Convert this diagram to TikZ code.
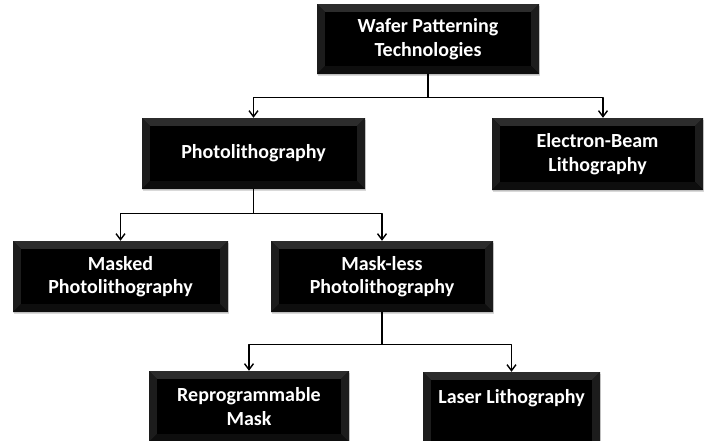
\documentclass[tikz,border=0pt]{standalone}
\usepackage{fontspec}
\setmainfont{Carlito}
\usetikzlibrary{arrows.meta,shadows}
\definecolor{bevtop}{HTML}{2C2C2C}
\definecolor{bevside}{HTML}{1C1C1C}
\definecolor{bevbot}{HTML}{0E0E0E}
\begin{document}
\begin{tikzpicture}[x=1pt,y=1pt,line
				join=round,line
				cap=round,
				font=\fontsize{20}{23.5}\selectfont\bfseries,
				link/.style={line width=1.4pt,-{Straight Barb[length=6pt,width=9pt,line width=1.4pt]}},
				techbox/.style={fill=black,text=white,align=center,inner sep=0pt,
					drop shadow={shadow xshift=1pt,shadow yshift=-2pt,opacity=.3,fill=gray},
					path picture={
						\def\bv{8}
						\coordinate (nw) at (path picture bounding box.north west);
						\coordinate (ne) at (path picture bounding box.north east);
						\coordinate (sw) at (path picture bounding box.south west);
						\coordinate (se) at (path picture bounding box.south east);
						\fill[bevtop] (nw)--(ne)--([shift={(-\bv,-\bv)}]ne)--([shift={(\bv,-\bv)}]nw)--cycle;
						\fill[bevside] (nw)--(sw)--([shift={(\bv,\bv)}]sw)--([shift={(\bv,-\bv)}]nw)--cycle;
						\fill[bevside] (ne)--(se)--([shift={(-\bv,\bv)}]se)--([shift={(-\bv,-\bv)}]ne)--cycle;
						\fill[bevbot] (sw)--(se)--([shift={(-\bv,\bv)}]se)--([shift={(\bv,\bv)}]sw)--cycle;
						\fill[black] ([shift={(\bv,-\bv)}]nw) rectangle ([shift={(-\bv,\bv)}]se);
					}}]
				\useasboundingbox (0,0) rectangle (704,-440);
				\node[techbox,minimum width=222,minimum height=70] (root) at (428,-39)
				{Wafer Patterning\\Technologies};
				\node[techbox,minimum width=223,minimum height=71] (photo) at (253.5,-153.5)
				{Photolithography};
				\node[techbox,minimum width=211,minimum height=72] (ebeam) at (597.5,-154)
				{Electron-Beam\\Lithography};
				\node[techbox,minimum width=215,minimum height=71] (masked) at (120.5,-276.5)
				{Masked\\Photolithography};
				\node[techbox,minimum width=222,minimum height=71] (maskless) at (382,-276.5)
				{Mask-less\\Photolithography};
				\node[techbox,minimum width=200,minimum height=71] (reprog) at (249,-406.5)
				{Reprogrammable\\Mask};
				\node[techbox,minimum width=177,minimum height=80] (laser) at (511.5,-412)
				{Laser Lithography\\\strut};
				% connectors
				\draw[link] (root.south) -- ++(0,-23) -| (photo.north);
				\draw[link] (root.south) -- ++(0,-23) -| ([xshift=5.5]ebeam.north);
				\draw[link] (photo.south) -- ++(0,-24) -| (masked.north);
				\draw[link] (photo.south) -- ++(0,-24) -| (maskless.north);
				\draw[link] (maskless.south) -- ++(0,-32) -| (reprog.north);
				\draw[link] (maskless.south) -- ++(0,-32) -| (laser.north);
			\end{tikzpicture}
\end{document}
